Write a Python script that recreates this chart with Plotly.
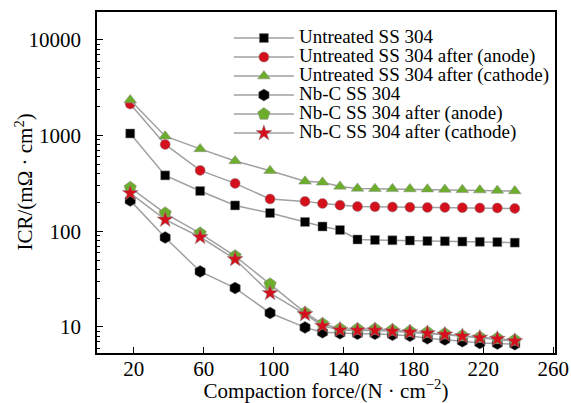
import plotly.graph_objects as go

force = [18, 38, 58, 78, 98, 118, 128, 138, 148, 158, 168, 178, 188, 198, 208, 218, 228, 238]

untreated = [1050, 383, 263, 186, 155, 125, 112, 103, 82, 81, 80.5, 80, 79, 78.6, 78, 77.5, 77, 76]
untreated_anode = [2130, 806, 432, 316, 217, 205, 195, 187, 181, 180, 179, 178, 177, 177, 176, 175, 175, 173]
untreated_cathode = [2350, 984, 724, 542, 429, 332, 324, 294, 280, 278, 277, 276, 275, 273, 271, 269, 266, 263]
nbc = [210, 86, 38, 25.5, 14, 9.9, 8.8, 8.6, 8.5, 8.5, 8.3, 8.1, 7.6, 7.4, 7.1, 6.8, 6.7, 6.6]
nbc_anode = [285, 154, 95, 55, 28, 14.1, 10.8, 9.6, 9.5, 9.5, 9.3, 9.0, 8.8, 8.5, 8.1, 7.8, 7.6, 7.3]
nbc_cathode = [250, 132, 87, 51, 22.6, 13.6, 10.3, 9.3, 9.2, 9.2, 9.0, 8.8, 8.6, 8.3, 8.0, 7.7, 7.5, 7.1]

names = ["Untreated SS 304", "Untreated SS 304 after (anode)", "Untreated SS 304 after (cathode)",
         "Nb-C SS 304", "Nb-C SS 304 after (anode)", "Nb-C SS 304 after (cathode)"]
series = [untreated, untreated_anode, untreated_cathode, nbc, nbc_anode, nbc_cathode]

RED = "#d4101c"
GREEN = "#6cae2c"
styles = [
    dict(symbol="square", color="black", size=9),
    dict(symbol="circle", color=RED, size=10),
    dict(symbol="triangle-up", color=GREEN, size=11),
    dict(symbol="hexagon", color="black", size=12),
    dict(symbol="pentagon", color=GREEN, size=13),
    dict(symbol="star", color=RED, size=12),
]

LEGEND_TEXT_PX = 19

fig = go.Figure()
for name, ys, st in zip(names, series, styles):
    fig.add_trace(go.Scatter(
        x=force, y=ys, mode="lines+markers",
        name='<span style="font-size:%dpx">%s</span>' % (LEGEND_TEXT_PX, name),
        line=dict(color="#a0a0a0", width=1.5),
        marker=dict(symbol=st["symbol"], color=st["color"], size=st["size"],
                    line=dict(width=0.5, color="#888888")),
    ))

font = "Liberation Serif, Times New Roman, serif"
fig.update_layout(
    width=571, height=403,
    margin=dict(l=97, r=16, t=12, b=50),
    paper_bgcolor="white", plot_bgcolor="white",
    font=dict(family=font, size=21, color="black"),
    showlegend=True,
    legend=dict(x=0.288, y=0.966, xanchor="left", yanchor="top",
                bgcolor="rgba(0,0,0,0)", font=dict(size=12, family=font),
                itemwidth=60, tracegroupgap=0),
    xaxis=dict(range=[-1, 261], tickvals=[20, 60, 100, 140, 180, 220, 260],
               ticks="inside", ticklen=6, tickwidth=1.2, tickcolor="black",
               showline=True, linecolor="black", linewidth=1.5, mirror=True,
               showgrid=False, zeroline=False, automargin=False,
               tickfont=dict(size=21), ticklabelstandoff=-4,
               title=dict(text="Compaction force/(N · cm<sup>−2</sup>)", font=dict(size=21), standoff=0)),
    yaxis=dict(type="log", range=[0.728, 4.29], tickvals=[10, 100, 1000, 10000],
               ticktext=["10", "100", "1000", "10000"],
               ticks="inside", ticklen=6, tickwidth=1.2, tickcolor="black",
               minor=dict(ticks="inside", ticklen=3, tickcolor="black",
                          tickvals=[v * m for m in [1, 10, 100, 1000] for v in [6, 7, 8, 9]] +
                                   [v * m for m in [10, 100, 1000] for v in [2, 3, 4, 5]]),
               showline=True, linecolor="black", linewidth=1.5, mirror=True,
               showgrid=False, zeroline=False, automargin=False,
               tickfont=dict(size=21), ticklabelstandoff=10),
    annotations=[dict(text="ICR/(mΩ · cm<sup>2</sup>)", textangle=-90,
                      xref="paper", yref="paper", x=-73 / 458, y=0.5,
                      xanchor="center", yanchor="middle", showarrow=False,
                      font=dict(size=21, family=font))],
)

fig.write_html("out.html")
